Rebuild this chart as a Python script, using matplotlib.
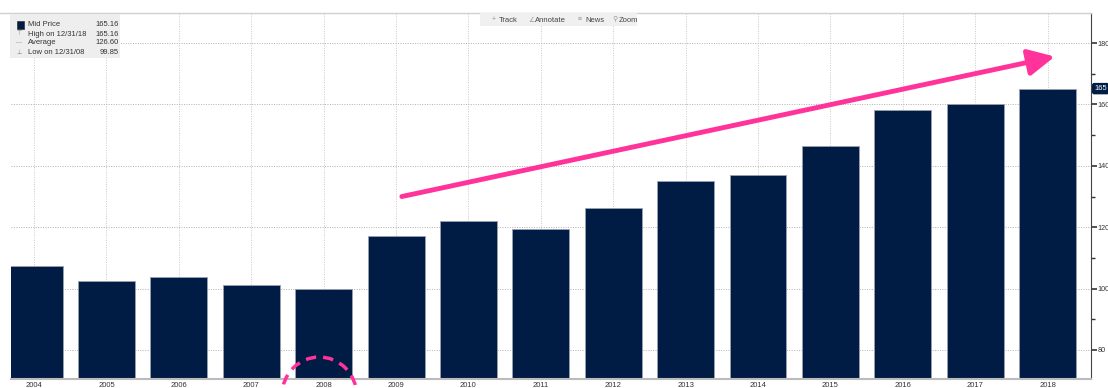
import matplotlib.pyplot as plt
from matplotlib.patches import Ellipse, Rectangle
from matplotlib.ticker import MultipleLocator

years = ["2004", "2005", "2006", "2007", "2008", "2009", "2010", "2011",
         "2012", "2013", "2014", "2015", "2016", "2017", "2018"]
mid_price = [107.5, 102.6, 103.9, 101.3, 99.85, 117.0, 122.1, 119.5,
             126.4, 134.9, 137.1, 146.6, 158.3, 160.3, 165.16]
legend_rows = [("Mid Price", "165.16"), ("High on 12/31/18", "165.16"),
               ("Average", "126.60"), ("Low on 12/31/08", "99.85")]
toolbar_items = ["Track", "Annotate", "News", "Zoom"]

NAVY = "#001c45"
PINK = "#ff3399"
plt.rcParams['font.family'] = ['Liberation Sans', 'DejaVu Sans']

fig = plt.figure(figsize=(11.08, 3.88), dpi=100)
ax = fig.add_axes([11 / 1108, 0.0232, 1080 / 1108, 0.9433])

x = list(range(len(years)))
ax.bar(x, mid_price, width=0.787, color=NAVY, edgecolor="#9aa0ad", linewidth=0.6, zorder=2)

ax.set_xlim(-0.319, 14.6)
ax.set_ylim(70.55, 189.8)
ax.set_xticks(x)
ax.set_xticklabels(years, fontsize=5.5, color="#333333")
ax.tick_params(axis="x", length=0, pad=2)

ax.yaxis.tick_right()
ax.yaxis.set_major_locator(MultipleLocator(20))
ax.yaxis.set_minor_locator(MultipleLocator(10))
ax.tick_params(axis="y", which="major", direction="out", length=4, width=1.2,
               color="#333333", labelsize=5.2, labelcolor="#333333", pad=0.5)
ax.tick_params(axis="y", which="minor", direction="out", length=3, width=1, color="#333333")
ax.set_yticks([80, 100, 120, 140, 160, 180])

ax.grid(True, which="major", axis="y", linestyle=(0, (1, 1.5)), color="#b0b0b0", linewidth=0.7, zorder=0)
ax.grid(True, which="major", axis="x", linestyle=(0, (1, 1.5)), color="#c8c8c8", linewidth=0.7, zorder=0)
for s in ["left", "top"]:
    ax.spines[s].set_visible(False)
ax.spines["right"].set_color("#444444")
ax.spines["bottom"].set_color("#bbbbbb")
ax.spines["bottom"].set_linewidth(1.5)

# top border
fig.add_artist(plt.Line2D([0, 0.985], [0.9665, 0.9665], color="#d0d0d0", lw=1))

# last value marker on the axis
ax.text(1.003, mid_price[-1], "165", transform=ax.get_yaxis_transform(), fontsize=5.5,
        color="white", va="center", ha="left",
        bbox=dict(boxstyle="round,pad=0.2", fc=NAVY, ec=NAVY))

# trend arrow
ax.annotate("", xy=(14.1, 175.6), xytext=(5.08, 130.0),
            arrowprops=dict(arrowstyle="-|>,head_length=1.6,head_width=0.8",
                            color=PINK, lw=3.5, shrinkA=0, shrinkB=0), zorder=5)

# dashed circle around 2008
ax.add_patch(Ellipse((3.94, 65.3), 1.03, 24.8, fill=False, edgecolor=PINK,
                     linestyle=(0, (3, 2)), linewidth=2.5, clip_on=False, zorder=6))

# legend box
fig.add_artist(Rectangle((10 / 1108, 1 - 58 / 388), 110 / 1108, 44 / 388,
                         transform=fig.transFigure, fc="#eeeeee", ec="none", zorder=3))
for i, (label, val) in enumerate(legend_rows):
    yy = 1 - (25 + 9 * i) / 388
    fig.text(28 / 1108, yy, label, fontsize=5.5, color="#333333", va="center", zorder=4)
    fig.text(119 / 1108, yy, val, fontsize=5.5, color="#333333", va="center", ha="right", zorder=4)
fig.add_artist(Rectangle((17 / 1108, 1 - 28.5 / 388), 7 / 1108, 7 / 388,
                         transform=fig.transFigure, fc=NAVY, ec="#333333", lw=0.5, zorder=4))
for i, sym in enumerate(["⊤", "—", "⊥"]):
    fig.text(19 / 1108, 1 - (34 + 9 * i) / 388, sym, fontsize=4.5, color="#888888",
             va="center", ha="center", zorder=4)

# toolbar
fig.add_artist(Rectangle((480 / 1108, 1 - 26 / 388), 157 / 1108, 13 / 388,
                         transform=fig.transFigure, fc="#f0f0f0", ec="none", zorder=3))
tool_x = [492, 528, 578, 612]
tool_icons = ["+", "∠", "≡", "⚲"]
for tx, icon, name in zip(tool_x, tool_icons, toolbar_items):
    fig.text(tx / 1108, 1 - 20 / 388, icon, fontsize=5, color="#999999", va="center", zorder=4)
    fig.text((tx + 7) / 1108, 1 - 20 / 388, name, fontsize=5.5, color="#444444", va="center", zorder=4)

fig.savefig("out.png", dpi=100, facecolor="white")
